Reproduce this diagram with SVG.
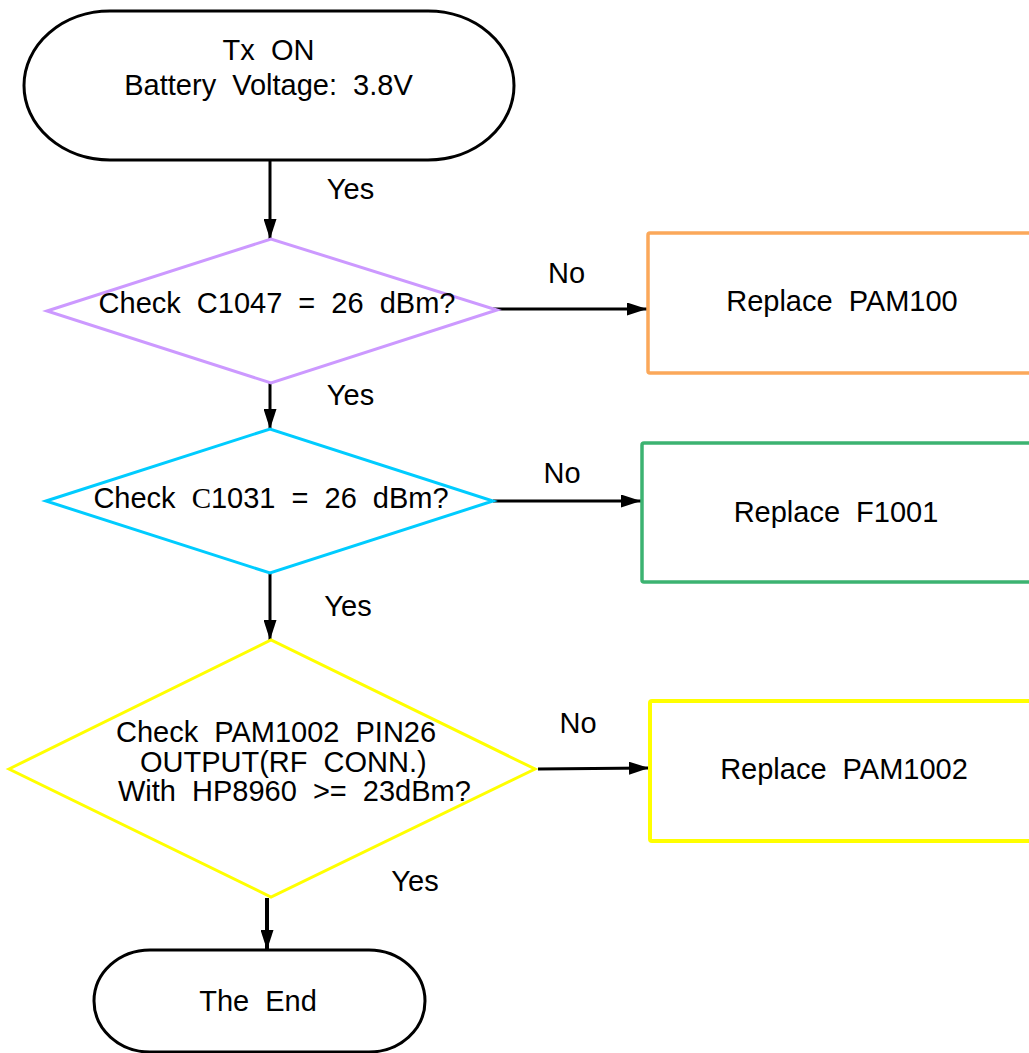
<svg xmlns="http://www.w3.org/2000/svg" width="1029" height="1053" viewBox="0 0 1029 1053">
<defs>
<style>
text{font-family:"Liberation Sans",Arial,sans-serif;font-size:29px;fill:#000;word-spacing:8px}
.mid{text-anchor:middle}
.term{fill:#fff;stroke:#000;stroke-width:3}
.dia{fill:none;stroke-width:3}
.box{fill:#fff;stroke-width:3.5}
.conn{stroke:#000;stroke-width:3;fill:none;marker-end:url(#arr)}
</style>
<marker id="arr" markerUnits="userSpaceOnUse" markerWidth="20" markerHeight="13" refX="20" refY="6.5" orient="auto">
<path d="M0,0 L20,6.5 L0,13 z" fill="#000"/>
</marker>
</defs>
<rect width="1029" height="1053" fill="#fff"/>
<g id="connectors">
<line class="conn" x1="270" y1="160" x2="270" y2="239"/>
<line class="conn" x1="270" y1="383" x2="270" y2="429"/>
<line class="conn" x1="270" y1="573" x2="270" y2="640"/>
<line class="conn" style="stroke-width:4" x1="267" y1="898" x2="267" y2="950"/>
<line class="conn" x1="493" y1="309" x2="647" y2="309"/>
<line class="conn" x1="493" y1="501" x2="641" y2="501"/>
<line class="conn" x1="538" y1="769" x2="649" y2="768"/>
<text class="mid" x="350.5" y="199">Yes</text>
<text class="mid" x="350.5" y="405">Yes</text>
<text class="mid" x="348" y="616">Yes</text>
<text class="mid" x="415" y="891">Yes</text>
<text class="mid" x="566.5" y="283">No</text>
<text class="mid" x="562" y="483">No</text>
<text class="mid" x="578" y="733">No</text>
</g>
<g id="start">
<rect class="term" x="24" y="11" width="490" height="149" rx="86" ry="74.5"/>
<text class="mid" x="268.5" y="60">Tx ON</text>
<text class="mid" x="268.5" y="95">Battery Voltage: 3.8V</text>
</g>
<g id="check1">
<polygon class="dia" stroke="#CC99FF" points="47,311 271,239 497,310 271,383"/>
<text class="mid" x="277" y="313">Check C1047 = 26 dBm?</text>
</g>
<g id="replace1">
<rect class="box" stroke="#FBA85A" x="648" y="233" width="400" height="140" rx="2"/>
<text class="mid" x="842" y="311">Replace PAM100</text>
</g>
<g id="check2">
<polygon class="dia" stroke="#00CCFF" points="46,501 270,429 493,501 270,573"/>
<text class="mid" x="271" y="508">Check <tspan style="font-family:'Liberation Serif','Times New Roman',serif">C</tspan>1031 = 26 dBm?</text>
</g>
<g id="replace2">
<rect class="box" stroke="#3CB371" x="642" y="443" width="400" height="139" rx="2"/>
<text class="mid" x="836" y="522">Replace F1001</text>
</g>
<g id="check3">
<polygon class="dia" stroke="#FFFF00" points="9,769 271,640 535,769 271,897"/>
<text x="116" y="742">Check PAM1002 PIN26</text>
<text x="140" y="772">OUTPUT(RF CONN.)</text>
<text x="118" y="801">With HP8960 &gt;= 23dBm?</text>
</g>
<g id="replace3">
<rect class="box" stroke="#FFFF00" style="stroke-width:4" x="650" y="701" width="400" height="140" rx="2"/>
<text class="mid" x="844" y="779">Replace PAM1002</text>
</g>
<g id="end">
<rect class="term" x="94" y="950" width="331" height="102" rx="56" ry="51"/>
<text class="mid" x="258" y="1011">The End</text>
</g>
</svg>
